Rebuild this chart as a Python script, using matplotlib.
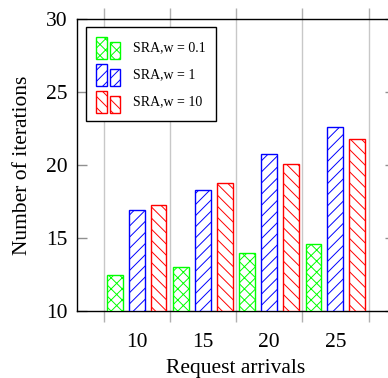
import numpy as np
import matplotlib
matplotlib.use('Agg')
import matplotlib.pyplot as plt
from matplotlib.patches import Rectangle
from matplotlib.legend_handler import HandlerBase

plt.rcParams['font.family'] = ['Liberation Serif', 'DejaVu Serif']
plt.rcParams['hatch.linewidth'] = 0.7

# data
arrivals = [10, 15, 20, 25]
iters_w01 = [12.5, 13.0, 14.0, 14.6]
iters_w1 = [16.9, 18.3, 20.75, 22.6]
iters_w10 = [17.25, 18.8, 20.1, 21.75]
labels = ['SRA,w = 0.1', 'SRA,w = 1', 'SRA,w = 10']
colors = ['#00ff00', '#0000ff', '#ff0000']
hatches = ['xxx', '///', '\\\\\\']


class TwoBars(HandlerBase):
    # pgfplots-style ybar legend: two small bars of different heights
    def create_artists(self, legend, orig_handle, xdescent, ydescent,
                       width, height, fontsize, trans):
        w = width * 0.42
        out = []
        for x0, h in [(0, height), (width * 0.56, height * 0.75)]:
            p = Rectangle((-xdescent + x0, -ydescent - 2), w, h + 2,
                          facecolor='white', edgecolor=orig_handle.get_edgecolor(),
                          hatch=orig_handle.get_hatch(), lw=1.0)
            p.set_transform(trans)
            out.append(p)
        return out


fig = plt.figure(figsize=(3.88, 3.78), dpi=100)
ax = fig.add_axes([77 / 388, 67 / 378, 318 / 388, 292 / 378])

x = np.array(arrivals, dtype=float)
off = 1.65
width = 1.2
series = [iters_w01, iters_w1, iters_w10]
bars = []
for i, vals in enumerate(series):
    b = ax.bar(x + (i - 1) * off, np.array(vals) - 10, width, bottom=10,
               facecolor='white', edgecolor=colors[i], hatch=hatches[i],
               lw=1.0, label=labels[i], zorder=3)
    bars.append(b.patches[0])

ax.set_xlim(5.5, 29.5)
ax.set_ylim(10, 30)
ax.set_xticks(arrivals)
ax.set_xticks(np.arange(7.5, 30, 5), minor=True)
ax.set_yticks([10, 15, 20, 25, 30])
ax.tick_params(axis='x', which='major', length=0, pad=16, labelsize=15.5)
ax.tick_params(axis='x', which='minor', direction='out', length=8,
               color='#b0b0b0', width=1.0, top=True, bottom=True)
ax.tick_params(axis='y', direction='in', length=7, color='#909090',
               width=1.0, left=True, right=True, labelsize=15.5, pad=7)
ax.grid(axis='x', which='minor', color='#c8c8c8', lw=1.0, zorder=0)
for s in ax.spines.values():
    s.set_linewidth(1.0)

ax.set_xlabel('Request arrivals', fontsize=15.5, labelpad=5)
ax.set_ylabel('Number of iterations', fontsize=15.5, labelpad=10)

leg = ax.legend(bars, labels, loc='upper left', bbox_to_anchor=(0.028, 0.973),
                borderaxespad=0, fontsize=10, handler_map={Rectangle: TwoBars()},
                handlelength=1.75, handleheight=1.7, handletextpad=0.9,
                labelspacing=0.6, borderpad=0.75, fancybox=False,
                edgecolor='black', framealpha=1)
leg.get_frame().set_linewidth(1.0)

fig.savefig('out.png', dpi=100)
